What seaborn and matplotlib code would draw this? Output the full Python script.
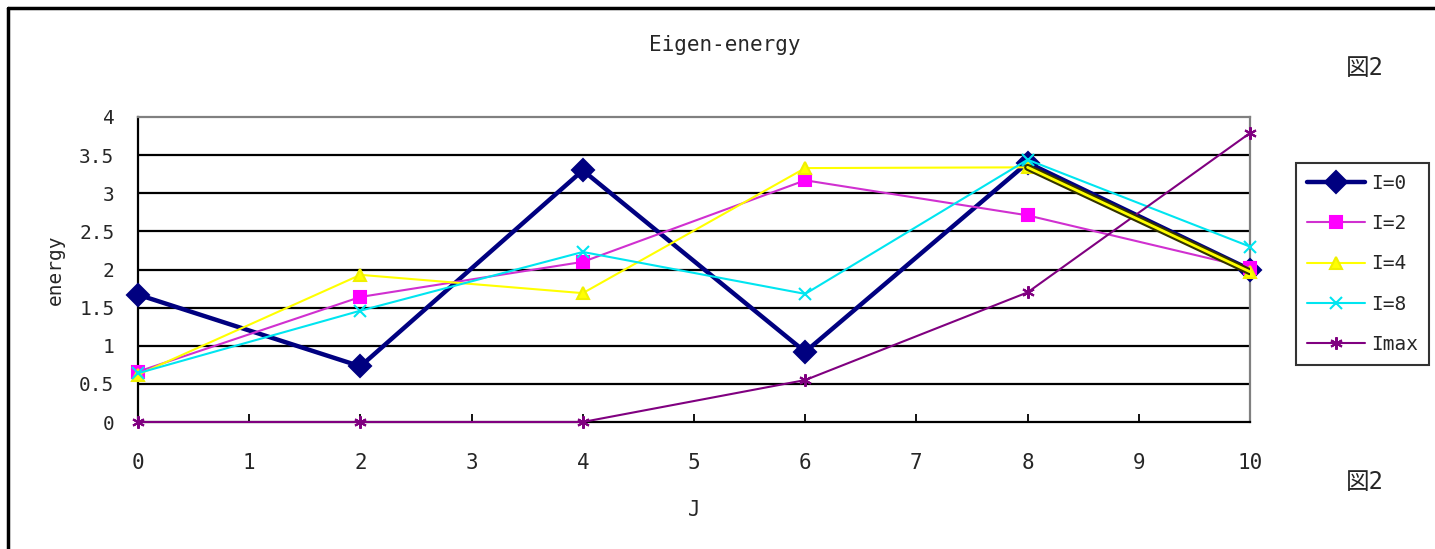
"""
Eigen-energy vs J for several I values (図2).
Run: python plot.py
"""
import numpy as np
import pandas as pd
import matplotlib
matplotlib.use("Agg")
import matplotlib.pyplot as plt
import matplotlib.patheffects as pe
import seaborn as sns

# ── data ─────────────────────────────────────────────────────────────────────
J      = [0, 2, 4, 6, 8, 10]
I0     = [1.67, 0.73, 3.30, 0.92, 3.40, 2.00]
I2     = [0.66, 1.64, 2.10, 3.17, 2.71, 2.02]
I4     = [0.62, 1.93, 1.69, 3.33, 3.34, 1.97]
I8     = [0.64, 1.46, 2.23, 1.68, 3.44, 2.30]
Imax   = [0.00, 0.00, 0.00, 0.55, 1.70, 3.79]
labels = ["I=0", "I=2", "I=4", "I=8", "Imax"]
xticks = list(range(0, 11))
yticks = [0, 0.5, 1, 1.5, 2, 2.5, 3, 3.5, 4]
ytick_labels = ["0", "0.5", "1", "1.5", "2", "2.5", "3", "3.5", "4"]

series = [I0, I2, I4, I8, Imax]
df = pd.concat(
    [pd.DataFrame({"J": J, "energy": vals, "series": lab})
     for lab, vals in zip(labels, series)],
    ignore_index=True,
)

# ── style ────────────────────────────────────────────────────────────────────
sns.set_style("white")
plt.rcParams["font.family"] = ["DejaVu Sans Mono", "Noto Sans CJK JP"]

styles = {
    "I=0":  dict(color="#000080", marker="D", ms=11, lw=3.2, mec="#000080"),
    "I=2":  dict(color="#D030D0", marker="s", ms=8,  lw=1.5, mec="#FF00FF", mfc="#FF00FF"),
    "I=4":  dict(color="#FFFF00", marker="^", ms=9,  lw=1.5, mec="#F0F000"),
    "I=8":  dict(color="#00E5F0", marker="x", ms=8,  lw=1.5, mec="#00E5F0"),
    "Imax": dict(color="#800080", marker=(6, 2, 0), ms=9, lw=1.5, mec="#800080"),
}

fig = plt.figure(figsize=(14.35, 5.49), dpi=100)
ax = fig.add_axes([138 / 1435, 127 / 549, (1250 - 138) / 1435, (422 - 117) / 549])

# gridlines first (black, Excel style)
for y in yticks[1:-1]:
    ax.axhline(y, color="black", lw=1.6, zorder=1)

for lab in labels:
    st = styles[lab]
    sub = df[df["series"] == lab]
    sns.lineplot(
        data=sub, x="J", y="energy", ax=ax,
        color=st["color"], lw=st["lw"], marker=st["marker"],
        markersize=st["ms"], markeredgecolor=st["mec"],
        markerfacecolor=st.get("mfc", st["color"]),
        markeredgewidth=1.5, label=lab, zorder=3,
        clip_on=False,
    )

# the highlighted I=4 segment between J=8 and J=10
sel = df[(df["series"] == "I=4") & (df["J"] >= 8)]
ax.plot(sel["J"], sel["energy"], color="#FFFF00", lw=2, zorder=4,
        path_effects=[pe.Stroke(linewidth=5, foreground="#333300"), pe.Normal()])

ax.set_xlim(0, 10)
ax.set_ylim(0, 4)
ax.set_xticks(xticks)
ax.set_yticks(yticks)
ax.set_yticklabels(ytick_labels)
ax.tick_params(axis="x", direction="in", length=6, width=1.3, color="black",
               labelsize=15, pad=22, bottom=True)
ax.tick_params(axis="y", length=0, labelsize=14, pad=17)

for side in ["left", "bottom"]:
    ax.spines[side].set_color("black")
    ax.spines[side].set_linewidth(1.6)
for side in ["top", "right"]:
    ax.spines[side].set_color("#808080")
    ax.spines[side].set_linewidth(1.6)
    ax.spines[side].set_visible(True)

ax.set_xlabel("J", fontsize=15, labelpad=20)
ax.set_ylabel("energy", fontsize=14, labelpad=10)

ax.get_legend().remove()
handles, labs = ax.get_legend_handles_labels()
leg = fig.legend(
    handles[:5], labs[:5],
    loc="upper left", bbox_to_anchor=(1296 / 1435, 1 - 163 / 549),
    frameon=True, fancybox=False, edgecolor="black", fontsize=14,
    handlelength=3.0, labelspacing=1.1, borderpad=0.55, handletextpad=0.3,
    borderaxespad=0,
)
leg.get_frame().set_linewidth(1.5)

fig.text(725 / 1435, 1 - 45 / 549, "Eigen-energy", ha="center", va="center",
         fontsize=15)
fig.text(1365 / 1435, 1 - 68 / 549, "図2", ha="center", va="center", fontsize=17)
fig.text(1365 / 1435, 1 - 482 / 549, "図2", ha="center", va="center", fontsize=17)

# outer chart border (top and left edges visible)
fig.add_artist(plt.Line2D([8 / 1435, 8 / 1435], [0, 1 - 8 / 549],
                          color="black", lw=2.5, transform=fig.transFigure))
fig.add_artist(plt.Line2D([8 / 1435, 1], [1 - 8 / 549, 1 - 8 / 549],
                          color="black", lw=2.5, transform=fig.transFigure))

fig.savefig("out.png", dpi=100)
plt.close()
